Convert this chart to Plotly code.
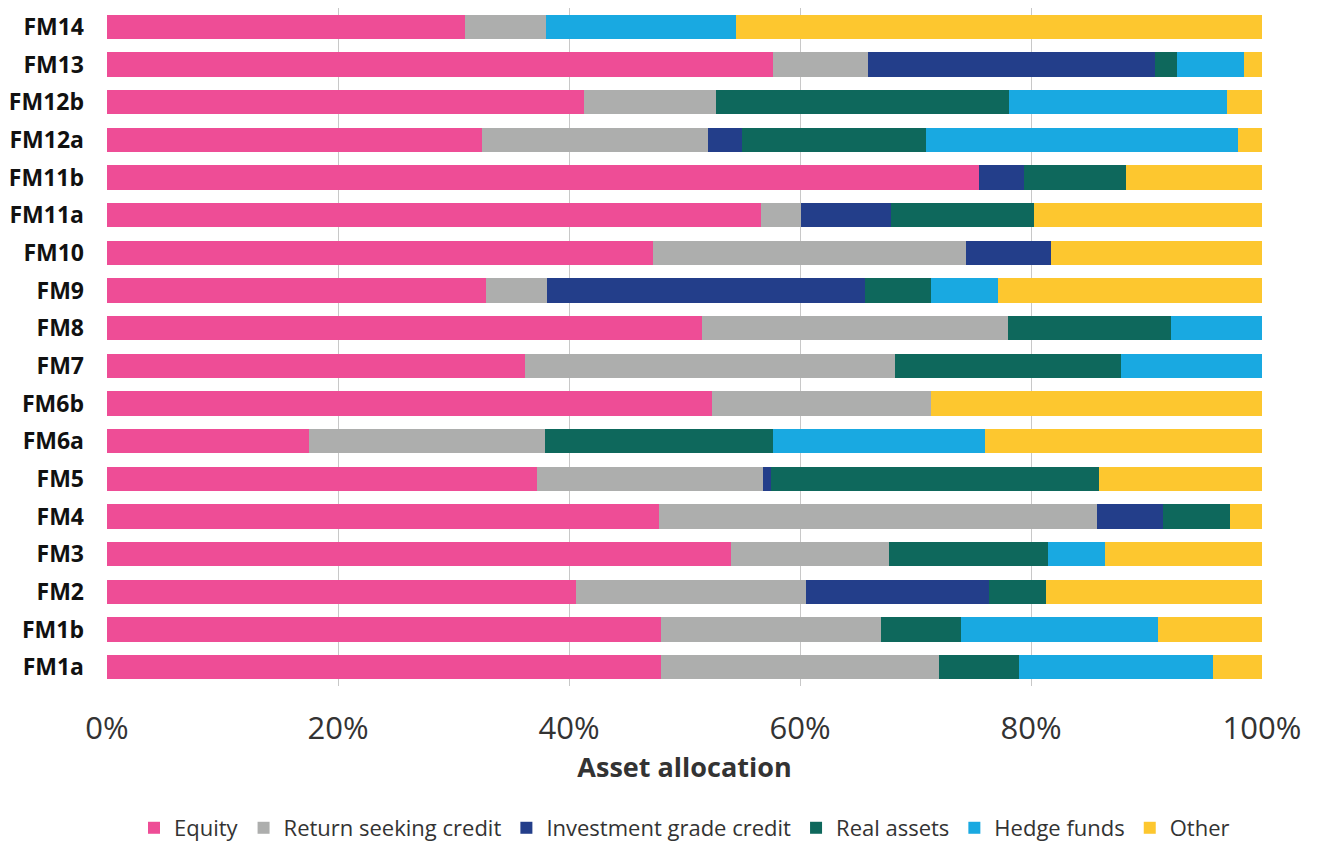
import plotly.graph_objects as go

categories = ["FM14", "FM13", "FM12b", "FM12a", "FM11b", "FM11a", "FM10", "FM9", "FM8",
              "FM7", "FM6b", "FM6a", "FM5", "FM4", "FM3", "FM2", "FM1b", "FM1a"]

equity = [31.0, 57.7, 41.3, 32.5, 75.5, 56.6, 47.3, 32.8, 51.5, 36.2, 52.4, 17.5, 37.2, 47.8, 54.0, 40.6, 48.0, 48.0]
return_seeking_credit = [7.0, 8.2, 11.4, 19.5, 0, 3.5, 27.1, 5.3, 26.5, 32.0, 18.9, 20.4, 19.6, 37.9, 13.7, 19.9, 19.0, 24.0]
investment_grade_credit = [0, 24.8, 0, 3.0, 3.9, 7.8, 7.3, 27.5, 0, 0, 0, 0, 0.7, 5.7, 0, 15.9, 0, 0]
real_assets = [0, 1.9, 25.4, 15.9, 8.8, 12.4, 0, 5.7, 14.1, 19.6, 0, 19.8, 28.4, 5.8, 13.8, 4.9, 6.9, 7.0]
hedge_funds = [16.5, 5.8, 18.9, 27.0, 0, 0, 0, 5.8, 7.9, 12.2, 0, 18.3, 0, 0, 4.9, 0, 17.1, 16.8]
other = [45.5, 1.6, 3.0, 2.1, 11.8, 19.7, 18.3, 22.9, 0, 0, 28.7, 24.0, 14.1, 2.8, 13.6, 18.7, 9.0, 4.2]

series = [
    ("Equity", equity, "#EE4D96"),
    ("Return seeking credit", return_seeking_credit, "#ADAEAD"),
    ("Investment grade credit", investment_grade_credit, "#233E8A"),
    ("Real assets", real_assets, "#0E685C"),
    ("Hedge funds", hedge_funds, "#19A9E1"),
    ("Other", other, "#FDC72F"),
]

fig = go.Figure()
for name, vals, color in series:
    fig.add_trace(go.Bar(
        y=categories, x=[v / 100 for v in vals], name=name, orientation="h",
        marker=dict(color=color, line=dict(width=0)),
    ))

FONT = "Open Sans, Lato, sans-serif"

# page body has an 8px margin: size the figure so the picture lands where the reference is
fig.update_layout(
    barmode="stack",
    bargap=0.36,
    width=1311, height=833,
    margin=dict(l=99, r=57, t=0, b=155, autoexpand=False),
    plot_bgcolor="white", paper_bgcolor="white",
    font=dict(family=FONT, color="#333333"),
    showlegend=True,
    legend=dict(
        orientation="h", x=0.5, xanchor="center", y=-0.2094, yanchor="middle",
        font=dict(size=22, color="#333333", family=FONT), traceorder="normal",
        itemwidth=30, tracegroupgap=0,
    ),
    xaxis=dict(
        range=[0, 1], tickformat=".0%", dtick=0.2, tick0=0,
        showgrid=True, gridcolor="#C8C8C8", gridwidth=1,
        zeroline=False, showline=False,
        tickfont=dict(size=31, color="#333333", family=FONT),
        ticklabelstandoff=21,
        title=dict(text="<b>Asset allocation</b>", font=dict(size=27, color="#333333", family=FONT), standoff=7),
    ),
    yaxis=dict(
        autorange="reversed", type="category",
        showgrid=False, zeroline=False, showline=False,
        tickfont=dict(size=23, color="#111111", family=FONT, weight="bold"),
        ticklabelstandoff=22,
    ),
)

fig.write_html("out.html")
